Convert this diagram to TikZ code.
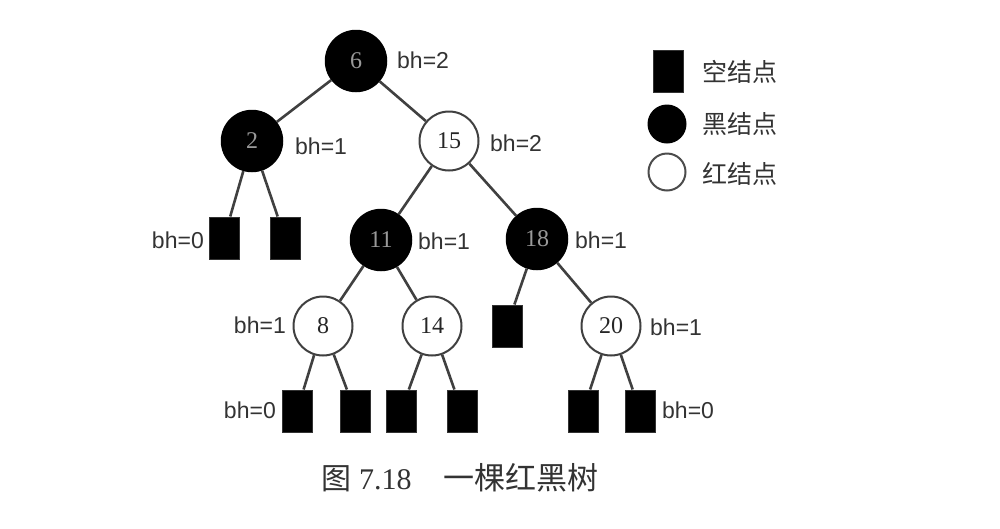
\documentclass[tikz,border=0pt]{standalone}
\usepackage{fontspec}
\setmainfont{Liberation Serif}
\newfontfamily\lsans{Liberation Sans}
\newfontfamily\cjk{Noto Sans CJK SC}
\begin{document}
\begin{tikzpicture}[x=1pt,y=-1pt,
  blk/.style={circle,fill=black,draw=black,line width=1.5pt,minimum size=61pt,inner sep=0pt,
     text=black!40,font=\fontsize{24}{24}\selectfont},
  red/.style={circle,fill=white,draw=black!75,line width=2pt,minimum size=59pt,inner sep=0pt,
     text=black!85,font=\fontsize{24}{24}\selectfont},
  nil/.style={rectangle,fill=black,draw=black!80,line width=1pt,minimum width=30pt,minimum height=42pt,inner sep=0pt},
  bh/.style={font=\lsans\fontsize{23}{23}\selectfont,text=black!80,inner sep=0pt},
  edge/.style={draw=black!75,line width=2.6pt},
  leg/.style={font=\cjk\fontsize{25}{25}\selectfont,text=black!80,inner sep=0pt,anchor=west}]
\useasboundingbox (0,0) rectangle (1000,528);
\fill[white] (0,0) rectangle (1000,528);
% nodes
\node[blk] (n6) at (356,61) {6};
\node[blk] (n2) at (252,141) {2};
\node[red] (n15) at (449,141) {15};
\node[nil] (s1) at (224,238) {};
\node[nil] (s2) at (285,238) {};
\node[blk] (n11) at (381,240) {11};
\node[blk] (n18) at (537,239) {18};
\node[red] (n8) at (323,326) {8};
\node[red] (n14) at (432,326) {14};
\node[nil] (s3) at (507,326) {};
\node[red] (n20) at (611,326) {20};
\node[nil] (s4) at (297,411) {};
\node[nil] (s5) at (355,411) {};
\node[nil] (s6) at (401,411) {};
\node[nil] (s7) at (462,411) {};
\node[nil] (s8) at (583,411) {};
\node[nil] (s9) at (640,411) {};
% edges
\draw[edge] (n6) -- (n2);
\draw[edge] (n6) -- (n15);
\draw[edge] (n2) -- (s1);
\draw[edge] (n2) -- (s2);
\draw[edge] (n15) -- (n11);
\draw[edge] (n15) -- (n18);
\draw[edge] (n11) -- (n8);
\draw[edge] (n11) -- (n14);
\draw[edge] (n18) -- (s3);
\draw[edge] (n18) -- (n20);
\draw[edge] (n8) -- (s4);
\draw[edge] (n8) -- (s5);
\draw[edge] (n14) -- (s6);
\draw[edge] (n14) -- (s7);
\draw[edge] (n20) -- (s8);
\draw[edge] (n20) -- (s9);
% bh labels
\node[bh,anchor=west] (b6) at (397,60) {bh=2};
\node[bh,anchor=west] (b2) at (295,146) {bh=1};
\node[bh,anchor=west] (b15) at (490,143) {bh=2};
\node[bh,anchor=east] (bs1) at (204,240) {bh=0};
\node[bh,anchor=west] (b11) at (418,241) {bh=1};
\node[bh,anchor=west] (b18) at (575,240) {bh=1};
\node[bh,anchor=east] (b8) at (286,325) {bh=1};
\node[bh,anchor=west] (b20) at (650,327) {bh=1};
\node[bh,anchor=east] (bs4) at (276,410) {bh=0};
\node[bh,anchor=west] (bs9) at (662,410) {bh=0};
% legend
\node[nil] (l1) at (668,71) {};
\node[circle,fill=black,minimum size=39pt,inner sep=0pt] (l2) at (667,124) {};
\node[circle,draw=black!70,line width=2pt,fill=white,minimum size=37pt,inner sep=0pt] (l3) at (667,172) {};
\node[leg] (t1) at (702,72) {空结点};
\node[leg] (t2) at (702,124) {黑结点};
\node[leg] (t3) at (702,174) {红结点};
% caption
\node[inner sep=0pt,anchor=west,text=black!80] (cap) at (321,478)
  {{\cjk\fontsize{30}{30}\selectfont 图}\fontsize{30}{30}\selectfont\hspace{8pt}7.18\hspace{32pt}{\cjk\fontsize{31}{31}\selectfont 一棵红黑树}};
\end{tikzpicture}
\end{document}
